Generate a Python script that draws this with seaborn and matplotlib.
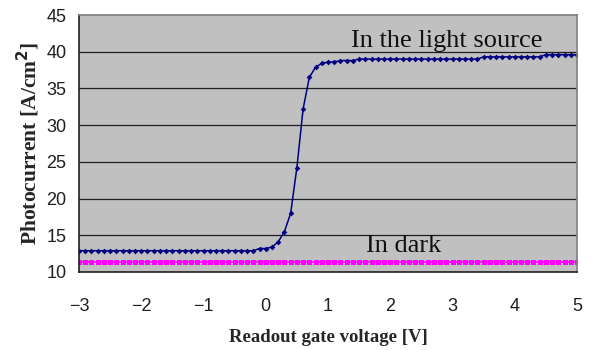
import numpy as np
import pandas as pd
import seaborn as sns
import matplotlib
matplotlib.use("Agg")
import matplotlib.pyplot as plt

# Data
voltage = [round(-3 + 0.1 * i, 1) for i in range(81)]
light_low = [12.9] * 25  # -3.0 .. -0.6
light_mid = [12.9, 12.9, 12.9, 12.9, 13.2, 13.2, 13.4, 14.1, 15.5, 18.0, 24.2,
             32.2, 36.5, 37.9, 38.4, 38.6, 38.6, 38.8, 38.8, 38.8]  # -0.5 .. 1.4
light_high = [39.0] * 20 + [39.3] * 10 + [39.6] * 6  # 1.5 .. 5.0
light = light_low + light_mid + light_high
dark = [11.4] * 81
yticks = [10, 15, 20, 25, 30, 35, 40, 45]
xticks = [-3, -2, -1, 0, 1, 2, 3, 4, 5]

df = pd.DataFrame({"V": voltage, "light": light, "dark": dark})

sns.set_style("white")
fig = plt.figure(figsize=(5.93, 3.5), dpi=100)
ax = fig.add_axes([79 / 593, 1 - 272 / 350, (577 - 79) / 593, (272 - 15) / 350])
ax.set_facecolor("#C0C0C0")

sns.lineplot(data=df, x="V", y="dark", ax=ax, color="#FF00FF", marker="s",
             markersize=3.6, markeredgewidth=0, linewidth=1.2)
sns.lineplot(data=df, x="V", y="light", ax=ax, color="#000080", marker="D",
             markersize=2.9, markeredgewidth=0, linewidth=1.1)

ax.set_xlim(-3, 5)
ax.set_ylim(10, 45)
ax.set_xticks(xticks)
ax.set_yticks(yticks)
ax.set_xticklabels(["\u22123", "\u22122", "\u22121", "0", "1", "2", "3", "4", "5"])
for y in yticks[1:-1]:
    ax.axhline(y, color="#202020", linewidth=0.9, zorder=0.5)

for side in ["left", "bottom"]:
    ax.spines[side].set_color("#202020")
    ax.spines[side].set_linewidth(1.2)
for side in ["top", "right"]:
    ax.spines[side].set_color("#808080")
    ax.spines[side].set_linewidth(1.2)

ax.tick_params(axis="x", direction="in", length=4, width=0.9, color="#202020",
               pad=19, labelsize=13, labelcolor="#202020")
ax.tick_params(axis="y", direction="out", length=3, width=0.9, color="#202020",
               pad=6, labelsize=13, labelcolor="#202020")
for lab in ax.get_xticklabels() + ax.get_yticklabels():
    lab.set_family("Liberation Sans")

ax.set_xlabel("Readout gate voltage [V]", family="Liberation Serif",
              fontweight="bold", fontsize=13.5, labelpad=10)
ax.set_ylabel("Photocurrent [A/cm$^\\mathbf{2}$]", family="Liberation Serif",
              fontweight="bold", fontsize=15.5, labelpad=3)

ax.text(2.90, 40.7, "In the light source", family="Liberation Serif",
        fontsize=19, color="#101010", ha="center", va="baseline")
ax.text(2.21, 12.77, "In dark", family="Liberation Serif",
        fontsize=19, color="#101010", ha="center", va="baseline")

fig.savefig("out.png", dpi=100)
